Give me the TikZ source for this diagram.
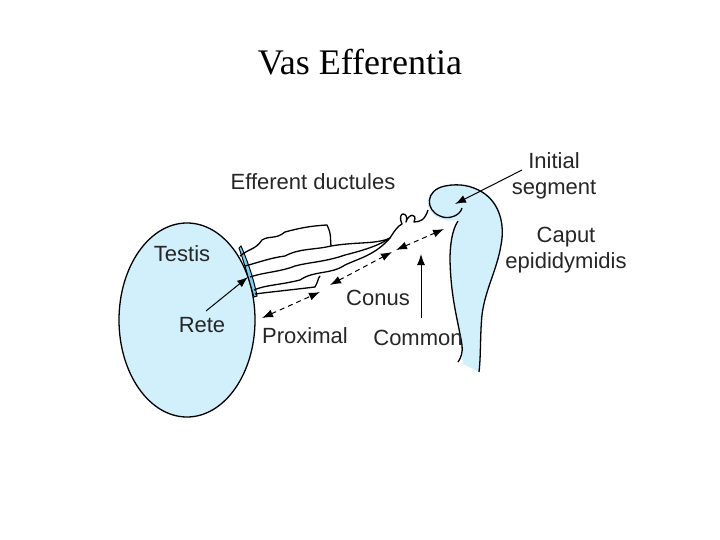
\documentclass[tikz,border=0pt]{standalone}
\usepackage{fontspec}
\usetikzlibrary{arrows.meta}
\setmainfont{Liberation Serif}
\newfontfamily\lab{Liberation Sans}
\tikzset{lbl/.style={font=\lab\fontsize{22}{26}\selectfont,text=black!85,inner sep=0pt,align=center},
 ln/.style={line width=1.3pt,line join=round},
 arr/.style={-{Latex[length=11pt,width=8pt]},line width=1pt},
 darr/.style={{Latex[length=11pt,width=8pt]}-{Latex[length=11pt,width=8pt]},line width=1pt,dash pattern=on 5pt off 4pt},
 fillc/.style={fill=cyan!18}}
\begin{document}
\begin{tikzpicture}[x=1pt,y=-1pt]
\path[use as bounding box] (0,0) rectangle (720,540);
\node (title) at (360,62) {\fontsize{36}{40}\selectfont Vas Efferentia};
% testis
\draw[ln,fillc] (187,320) ellipse [x radius=68, y radius=97];
\node (testis) at (187,320) {};
% rete
\draw[fill=cyan!55,line width=1pt] (241,246) .. controls (248,262) and (254,280) .. (257,296) -- (254,297) .. controls (249,280) and (244,262) .. (239,248) -- cycle;
\coordinate (rete) at (248,277);
% ductules
\draw[ln] (240,256) .. controls (250,248) and (255,250) .. (262,240) .. controls (270,235) and (275,240) .. (285,232) .. controls (300,228) and (310,226) .. (327,225) .. controls (332,235) and (330,240) .. (331,246);
\draw[ln] (245,266) .. controls (260,262) and (270,258) .. (285,256) .. controls (300,248) and (315,250) .. (331,246) .. controls (355,242) and (370,244) .. (385,240);
\draw[ln] (250,277) .. controls (265,272) and (280,272) .. (295,266) .. controls (310,262) and (325,262) .. (345,255) .. controls (365,250) and (380,245) .. (390,238);
\draw[ln] (254,290) .. controls (265,285) and (280,285) .. (300,280) .. controls (315,270) and (330,275) .. (345,265) .. controls (360,258) and (375,255) .. (390,238);
\draw[ln] (255,294) .. controls (270,292) and (290,290) .. (315,287) .. controls (318,282) and (318,278) .. (320,276);
\draw[ln] (390,238) .. controls (395,230) and (398,226) .. (402,224) .. controls (396,210) and (410,212) .. (406,222) .. controls (408,214) and (418,212) .. (414,222) .. controls (420,222) and (425,220) .. (428,210);
\draw[ln] (385,240) -- (390,238);
% epididymis
\path[fillc] (428,205) .. controls (425,185) and (455,180) .. (480,190) .. controls (500,198) and (505,225) .. (501,245) .. controls (497,270) and (485,290) .. (482,315) .. controls (480,335) and (481,355) .. (479,372) -- (463,364) .. controls (460,340) and (452,300) .. (450,260) .. controls (450,240) and (452,228) .. (458,220) .. controls (448,222) and (432,220) .. (428,205) -- cycle;
\draw[ln] (462,208) .. controls (460,216) and (448,220) .. (440,216) .. controls (425,210) and (425,190) .. (445,186) .. controls (460,183) and (472,186) .. (482,192) .. controls (500,203) and (505,225) .. (501,245) .. controls (497,270) and (485,290) .. (482,315) .. controls (480,335) and (481,355) .. (479,372);
\draw[ln] (458,221) .. controls (452,230) and (450,245) .. (450,260) .. controls (451,300) and (458,320) .. (462,345) .. controls (463,352) and (461,358) .. (458,362);
\coordinate (initpt) at (455,204);
% dashed arrows
\coordinate (p1) at (262,318); \coordinate (p2) at (320,292);
\coordinate (c1) at (330,285); \coordinate (c2) at (392,252);
\coordinate (m1) at (396,250); \coordinate (m2) at (444,229);
\draw[darr] (p1) -- (p2);
\draw[darr] (c1) -- (c2);
\draw[darr] (m1) -- (m2);
\coordinate (comtip) at (421,254);
\coordinate (rs) at (206,311);
\coordinate (cs) at (421,318);
\coordinate (is) at (522,170);
% labels
\node[lbl] (eff) at (313,182) {Efferent ductules};
\node[lbl] (tl) at (182,254) {Testis};
\node[lbl] (rl) at (202,325) {Rete};
\node[lbl] (pl) at (305,336) {Proximal};
\node[lbl] (cl) at (378,298) {Conus};
\node[lbl] (col) at (418,338) {Common};
\node[lbl] (init) at (554,176) {Initial\\segment};
\node[lbl] (caput) at (566,250) {Caput\\epididymidis};
\draw[arr] (rs) -- (rete);
\draw[arr] (cs) -- (comtip);
\draw[arr] (is) -- (initpt);
\end{tikzpicture}
\end{document}
